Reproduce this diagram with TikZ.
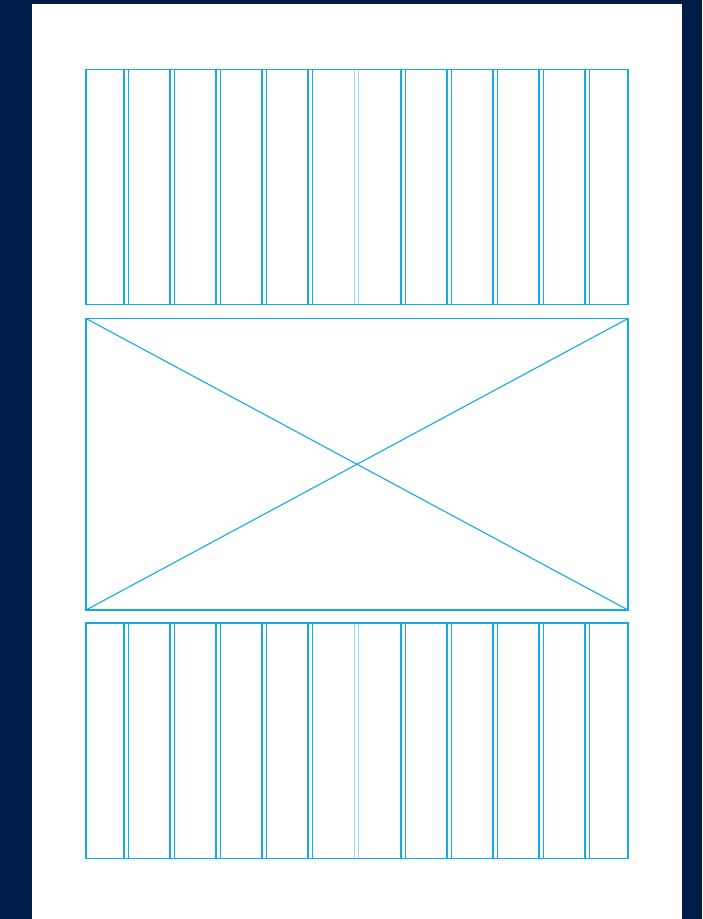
\documentclass[tikz,border=0pt]{standalone}
\definecolor{navy}{RGB}{0,28,71}
\definecolor{gridblue}{RGB}{20,170,230}
\definecolor{lightblue}{RGB}{160,215,245}
\begin{document}
\begin{tikzpicture}[x=1pt,y=-1pt,
  frame/.style={draw=gridblue,line width=1.1pt},
  gutter/.style={draw=gridblue,line width=1.1pt},
  midgutter/.style={draw=lightblue,line width=1.1pt}]
\fill[navy] (0,0) rectangle (702,919);
\useasboundingbox (0,0) rectangle (702,919);
\fill[white] (32,4) rectangle (682,919);
% top and bottom column blocks
\foreach \ya/\yb in {69.5/304.5, 623/858.5}{
  \foreach \xa in {124,170,216,262,308,401,447,493,539,585}{
    \draw[gutter] (\xa,\ya) -- (\xa,\yb);
    \draw[gutter] (\xa+4.3,\ya) -- (\xa+4.3,\yb);
  }
  \draw[midgutter] (354.5,\ya) -- (354.5,\yb);
  \draw[midgutter] (358.8,\ya) -- (358.8,\yb);
  \draw[frame] (86,\ya) rectangle (628,\yb);
}
% middle image placeholder
\draw[frame] (86,318.5) rectangle (628,610);
\draw[frame] (86,318.5) -- (628,610);
\draw[frame] (86,610) -- (628,318.5);
\end{tikzpicture}
\end{document}
